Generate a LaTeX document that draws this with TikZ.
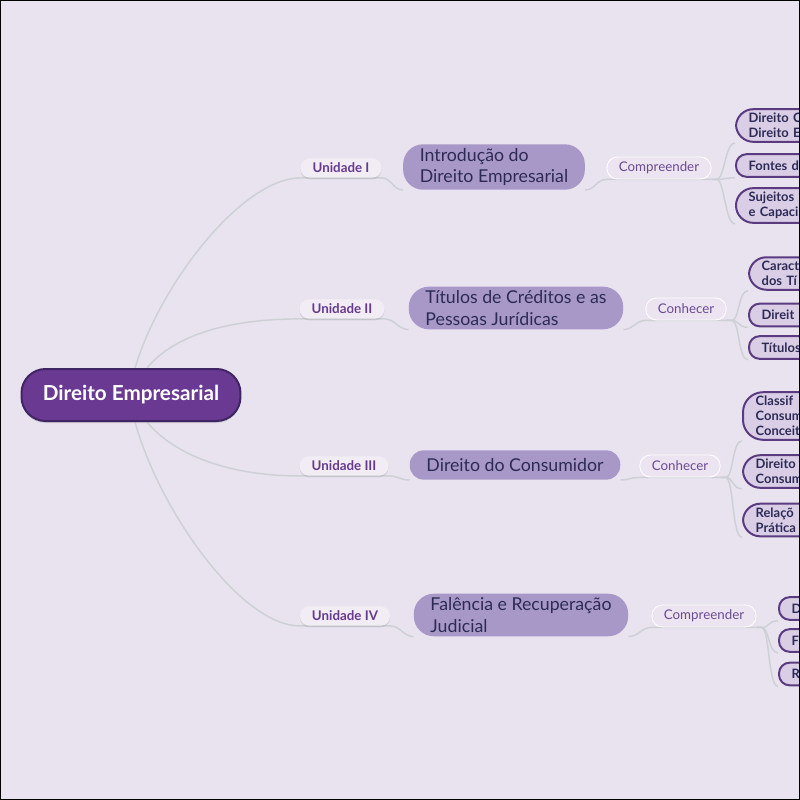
\documentclass[tikz,border=0pt]{standalone}
\usepackage{fontspec}
\setmainfont{Lato}
\usetikzlibrary{shadows}
% colours
\definecolor{bgcol}{HTML}{E9E2EF}
\definecolor{rootfill}{HTML}{6A3A92}
\definecolor{rootline}{HTML}{3F2563}
\definecolor{unitfill}{HTML}{F2EDF5}
\definecolor{unittext}{HTML}{673A8E}
\definecolor{topicfill}{HTML}{A898C8}
\definecolor{navy}{HTML}{2D2B56}
\definecolor{verbfill}{HTML}{ECE4F1}
\definecolor{verbtext}{HTML}{6B4A92}
\definecolor{leaffill}{HTML}{D9CEE6}
\definecolor{leafline}{HTML}{5B3B80}
\definecolor{linkcol}{HTML}{CDD1D5}
\pgfdeclarelayer{bg}
\pgfsetlayers{bg,main}
\tikzset{
  root/.style={draw=rootline, line width=1.5pt, fill=rootfill, text=white,
    rounded corners=18pt, minimum height=39pt, inner xsep=16pt,
    font=\bfseries\fontsize{15.5}{18}\selectfont,
    drop shadow={opacity=0.25, shadow xshift=0pt, shadow yshift=-1.5pt}},
  unit/.style={fill=unitfill, text=unittext, rounded corners=7pt,
    minimum height=14.5pt, inner xsep=9pt, inner ysep=0pt,
    font=\bfseries\fontsize{10}{12}\selectfont,
    drop shadow={opacity=0.2, shadow xshift=0pt, shadow yshift=-1.2pt}},
  topic/.style={fill=topicfill, text=navy, rounded corners=#1, align=left,
    minimum height=22pt, inner xsep=12.5pt, inner ysep=3pt,
    font=\fontsize{13.3}{16}\selectfont},
  topic/.default=15pt,
  verb/.style={fill=verbfill, draw=white, line width=0.7pt, text=verbtext,
    rounded corners=8pt, minimum height=16.5pt, inner xsep=9pt, inner ysep=0pt,
    font=\fontsize{10}{12}\selectfont},
  leaf/.style={fill=leaffill, draw=leafline, line width=1.5pt, text=navy,
    rounded corners=#1, anchor=west, text width=90pt, align=left,
    minimum height=17pt, inner xsep=9.5pt, inner ysep=3pt,
    font=\bfseries\fontsize{9.7}{11.2}\selectfont},
  leaf/.default=8pt,
  link/.style={draw=linkcol, line width=1.1pt}
}
\begin{document}
\begin{tikzpicture}[x=0.75pt,y=-0.75pt]
  \useasboundingbox (0,0) rectangle (800,800);
  \clip (0,0) rectangle (800,800);
  \begin{pgfonlayer}{bg}
    \fill[bgcol] (0,0) rectangle (800,800);
  \end{pgfonlayer}

  % centre
  \node[root] (root) at (131,395) {Direito Empresarial};

  % units
  \node[unit] (u1) at (341,168) {Unidade I};
  \node[unit] (u2) at (342,309) {Unidade II};
  \node[unit] (u3) at (344,466) {Unidade III};
  \node[unit] (u4) at (345,616) {Unidade IV};

  % topics
  \node[topic] (t1) at (494,167) {Introdução do\\Direito Empresarial};
  \node[topic] (t2) at (516,308) {Títulos de Créditos e as\\Pessoas Jurídicas};
  \node[topic=10.5pt] (t3) at (515,465) {Direito do Consumidor};
  \node[topic] (t4) at (521,615) {Falência e Recuperação\\Judicial};

  % verbs
  \node[verb] (c1) at (659,168) {Compreender};
  \node[verb] (c2) at (686,309) {Conhecer};
  \node[verb] (c3) at (680,466) {Conhecer};
  \node[verb] (c4) at (704,616) {Compreender};

  % leaves, cut by the frame
  \node[leaf=13pt] (l11) at (735,125.5) {Direito C\\Direito E};
  \node[leaf] (l12) at (735,165.5) {Fontes d};
  \node[leaf=13pt] (l13) at (735,205.5) {Sujeitos\\e Capaci};
  \node[leaf=13pt] (l21) at (748,273.5) {Caract\\dos Tí};
  \node[leaf] (l22) at (748,315) {Direit};
  \node[leaf] (l23) at (748,347.5) {Títulos};
  \node[leaf=15pt] (l31) at (742,416) {Classif\\Consum\\Conceit};
  \node[leaf=13pt] (l32) at (742,471.5) {Direito\\Consum};
  \node[leaf=13pt] (l33) at (742,520) {Relaçõ\\Prática};
  \node[leaf] (l41) at (778,608.5) {D};
  \node[leaf] (l42) at (778,640.5) {F};
  \node[leaf] (l43) at (778,674) {R};

  % connectors
  \begin{pgfonlayer}{bg}
    \draw[link] ([xshift=3pt]root.north) .. controls +(25,-84) and +(-58,0) .. (u1.south west);
    \draw[link] ([xshift=12pt]root.north) .. controls +(28,-34) and +(-68,0) .. (u2.south west);
    \draw[link] ([xshift=12pt]root.south) .. controls +(28,34) and +(-68,0) .. (u3.south west);
    \draw[link] ([xshift=3pt]root.south) .. controls +(25,90) and +(-58,0) .. (u4.south west);
    \foreach \i in {1,...,4} {
      \draw[link] (u\i.south west) -- (u\i.south east)
        .. controls +(10,0) and +(-10,0) .. (t\i.south west);
      \draw[link] (t\i.south east) .. controls +(10,0) and +(-10,0) .. (c\i.south west)
        -- (c\i.south east);
      \foreach \j in {1,2,3}
        \draw[link] (c\i.south east) -- ++(5,0)
          .. controls +(8,0) and +(-10,0) .. (l\i\j.south west);
    }
  \end{pgfonlayer}

  % frame
  \draw[black, line width=1.5pt] (0,0) rectangle (800,800);
\end{tikzpicture}
\end{document}
